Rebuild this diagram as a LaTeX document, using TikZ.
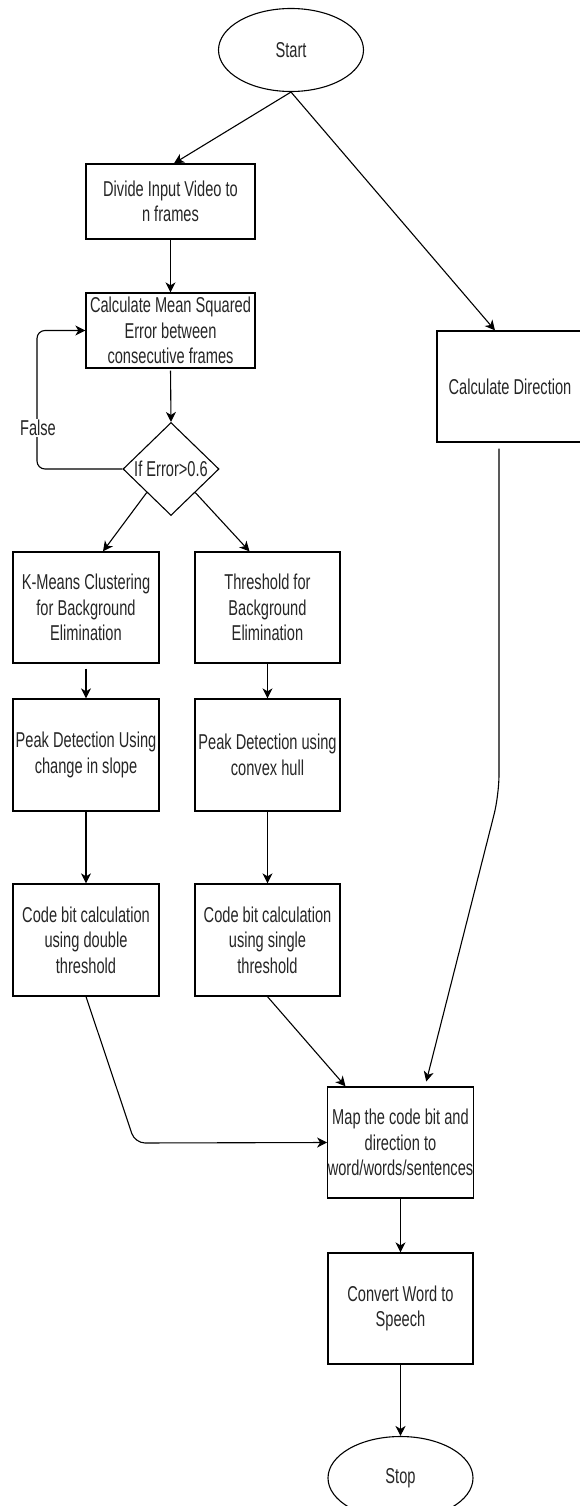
\documentclass[tikz,border=0pt]{standalone}
\usepackage{fontspec}
\setmainfont[FakeStretch=0.68]{Liberation Sans}
\usetikzlibrary{shapes.geometric,arrows.meta}
\begin{document}
\begin{tikzpicture}[x=1pt,y=-1pt,
  every node/.style={font=\fontsize{21.5}{25.5}\selectfont, text=black!85},
  box/.style={draw, rectangle, line width=1.3pt, inner sep=0pt, align=center, minimum width=146pt, minimum height=111pt},
  widebox/.style={box, minimum width=169pt, minimum height=75pt},
  term/.style={draw, ellipse, line width=1.1pt, inner sep=0pt, minimum width=145pt, minimum height=83pt},
  decide/.style={draw, diamond, line width=1.1pt, inner sep=0pt, minimum width=96pt, minimum height=93pt},
  conn/.style={line width=1.1pt, -{Stealth[length=10pt,width=10pt,inset=3pt]}},
  lbl/.style={fill=white, inner sep=1pt}
]
\useasboundingbox (0,0) rectangle (580,1506);

\node[term] (start) at (291,50) {Start};
\node[widebox] (div) at (170.5,201.5) {Divide Input Video to\\n frames};
\node[widebox] (mse) at (170.5,330.5) {Calculate Mean Squared\\Error between\\consecutive frames};
\node[decide] (dia) at (171,469) {If Error>0.6};
\node[box] (dir) at (510,386.5) {Calculate Direction};
\node[box] (km) at (86,607.5) {K-Means Clustering\\for Background\\Elimination};
\node[box, minimum width=145pt] (thr) at (267.5,607.5) {Threshold for\\Background\\Elimination};
\node[box, minimum height=112pt] (pk1) at (86,755) {Peak Detection Using\\change in slope};
\node[box, minimum width=145pt, minimum height=112pt] (pk2) at (267.5,755) {Peak Detection using\\convex hull};
\node[box, minimum height=112pt] (cb1) at (86,940) {Code bit calculation\\using double\\threshold};
\node[box, minimum width=145pt, minimum height=112pt] (cb2) at (267.5,940) {Code bit calculation\\using single\\threshold};
\node[box, minimum width=145pt] (map) at (400.5,1142.5) {Map the code bit and\\direction to\\word/words/sentences};
\node[box, minimum width=145pt] (conv) at (400.5,1308.5) {Convert Word to\\Speech};
\node[term] (stop) at (400.5,1478) {Stop};

\coordinate (loopc) at (37,400);
\coordinate (w1) at (135,1143);
\coordinate (w2) at (499,795);

\draw[conn] (start.south) -- ([xshift=3.5pt]div.north);
\draw[conn] (start.south) -- ([xshift=-15pt]dir.north);
\draw[conn] (div.south) -- (mse.north);
\draw[conn, shorten <=2pt] (mse.south) -- (dia.north);
\draw[conn, rounded corners=8pt] (dia.west) -| (loopc) |- (mse.west);
\node[lbl] (false) at (38,428) {False};
\draw[conn] (dia.south west) -- ([xshift=17pt]km.north);
\draw[conn] (dia.south east) -- ([xshift=-18pt]thr.north);
\draw[conn, shorten <=5pt] (km.south) -- (pk1.north);
\draw[conn] (thr.south) -- (pk2.north);
\draw[conn] (pk1.south) -- (cb1.north);
\draw[conn] (pk2.south) -- (cb2.north);
\draw[conn, rounded corners=10pt] (cb1.south) -- (w1) -- (map.west);
\draw[conn] (cb2.south) -- ([xshift=-55pt]map.north);
\draw[conn, rounded corners=20pt, shorten <=6pt, shorten >=5pt] ([xshift=-11pt]dir.south) -- (w2) -- ([xshift=24.5pt]map.north);
\draw[conn] (map.south) -- (conv.north);
\draw[conn] (conv.south) -- (stop.north);
\end{tikzpicture}
\end{document}
